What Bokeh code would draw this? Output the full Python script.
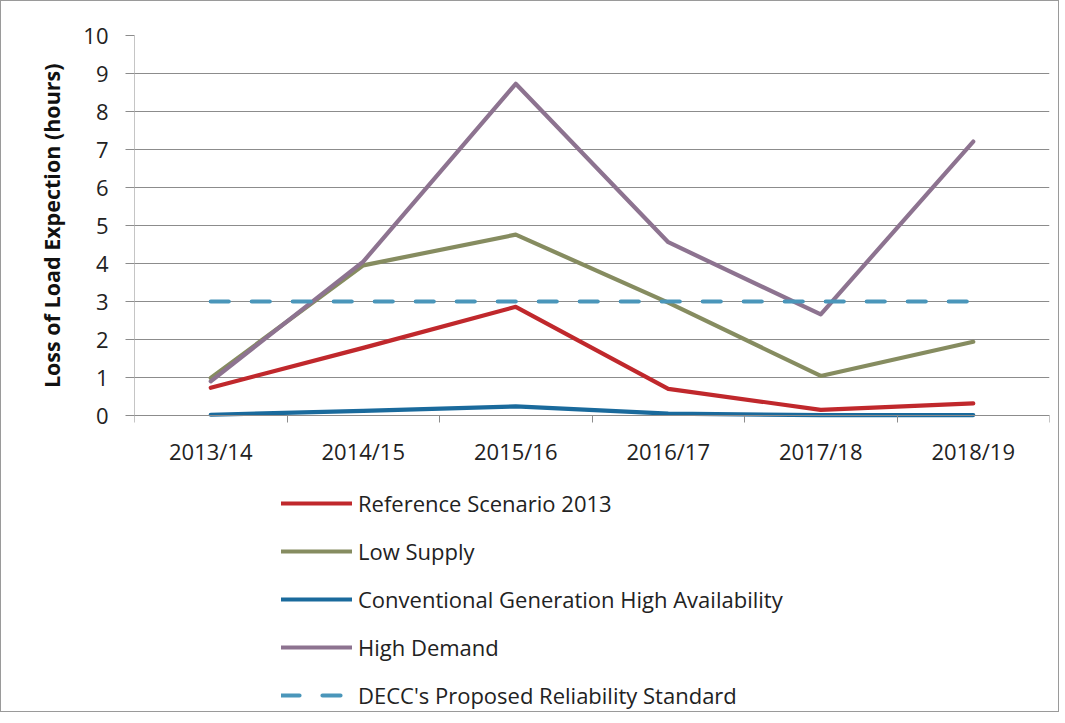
import numpy as np
from bokeh.plotting import figure
from bokeh.models import (Legend, LegendItem, FixedTicker, Range1d, LinearAxis, Title)
from bokeh.embed import file_html
from bokeh.resources import INLINE

categories = ["2013/14", "2014/15", "2015/16", "2016/17", "2017/18", "2018/19"]
reference_2013 = [0.73, 1.78, 2.86, 0.70, 0.15, 0.32]
low_supply = [0.99, 3.95, 4.76, 2.97, 1.04, 1.94]
conv_high_avail = [0.02, 0.12, 0.24, 0.05, 0.01, 0.01]
high_demand = [0.90, 4.05, 8.73, 4.56, 2.66, 7.21]
decc_standard = [3, 3, 3, 3, 3, 3]

series_names = ["Reference Scenario 2013", "Low Supply",
                "Conventional Generation High Availability", "High Demand",
                "DECC's Proposed Reliability Standard"]
colors = ["#C0282C", "#868C60", "#1A6A9C", "#8D7390", "#4A96BA"]
y_title = "Loss of Load Expection (hours)"

FONT = "Open Sans"
GRID = "#8C8C8C"
TXT = "#222222"

x = np.arange(len(categories)) + 0.5

FRAME_H = 676          # frame extends below the value axis to hold the legend
PLOT_H = 380           # pixel height of the 0..10 value band
y_max = 10
y_min = -y_max * (FRAME_H - PLOT_H) / PLOT_H

p = figure(frame_width=915, frame_height=FRAME_H, output_backend="svg",
           toolbar_location=None, x_axis_location=None,
           x_range=Range1d(0, len(categories)), y_range=Range1d(y_min, y_max),
           min_border_left=133, min_border_right=9, min_border_top=34,
           min_border_bottom=0)
p.outline_line_color = None
p.styles = {"border": "1px solid #9A9A9A"}

xaxis = LinearAxis(fixed_location=0)
xaxis.ticker = FixedTicker(ticks=list(x), minor_ticks=list(range(len(categories) + 1)))
xaxis.major_label_overrides = {float(v): c for v, c in zip(x, categories)}
xaxis.major_tick_line_color = None
xaxis.minor_tick_line_color = GRID
xaxis.minor_tick_out = 7
xaxis.minor_tick_in = 0
xaxis.axis_line_color = GRID
xaxis.major_label_text_font = FONT
xaxis.major_label_text_font_size = "22px"
xaxis.major_label_text_color = TXT
xaxis.major_label_standoff = 13
p.add_layout(xaxis, "below")

p.yaxis.ticker = FixedTicker(ticks=list(range(0, 11)))
p.yaxis.major_tick_line_color = GRID
p.yaxis.major_tick_out = 9
p.yaxis.major_tick_in = 0
p.yaxis.minor_tick_line_color = None
p.yaxis.axis_line_color = None
p.yaxis.major_label_text_font = FONT
p.yaxis.major_label_text_font_size = "22px"
p.yaxis.major_label_text_color = TXT
p.yaxis.major_label_standoff = 17

# value-axis title, aligned to the 0..10 band rather than the whole frame
p.add_layout(Title(text=y_title, align="right", vertical_align="bottom",
                   offset=28, standoff=30, text_font=FONT,
                   text_font_size="21.5px", text_font_style="bold",
                   text_color="#111111"), "left")

p.xgrid.grid_line_color = None
p.ygrid.grid_line_color = GRID
p.ygrid.grid_line_width = 1

# vertical value-axis line spanning only the 0..10 band
p.segment(x0=[0], y0=[0], x1=[0], y1=[y_max], line_color=GRID, line_width=1)

data = [reference_2013, low_supply, conv_high_avail, high_demand, decc_standard]
renderers = []
for i, (vals, col) in enumerate(zip(data, colors)):
    if i == 4:
        r = p.line(x, vals, line_color=col, line_width=4.2, line_dash="18 23",
                   line_cap="round")
    else:
        r = p.line(x, vals, line_color=col, line_width=4.2, line_join="round",
                   line_cap="round")
    renderers.append(r)

items = [LegendItem(label=n, renderers=[r]) for n, r in zip(series_names, renderers)]
legend = Legend(items=items, location=(147, 1), orientation="vertical",
                glyph_width=71, glyph_height=30, label_height=30, spacing=18,
                label_standoff=6, padding=0, margin=0,
                border_line_color=None, background_fill_alpha=0,
                label_text_font=FONT, label_text_font_size="22px",
                label_text_color=TXT)
p.add_layout(legend, "center")

open("out.html", "w").write(file_html(p, INLINE))
